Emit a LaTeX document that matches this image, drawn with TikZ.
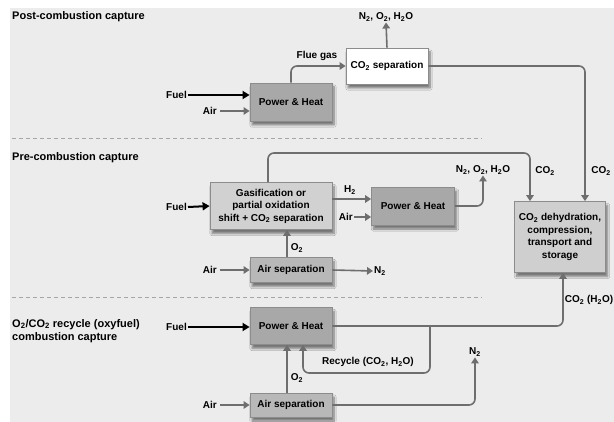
\documentclass[tikz,border=0pt]{standalone}
\usepackage{fontspec}
\setmainfont{Liberation Sans}
\usetikzlibrary{arrows.meta,shadows.blur}

\begin{document}
\begin{tikzpicture}[x=1pt,y=-1pt,
  font=\fontsize{10}{12.5}\selectfont\bfseries,
  box/.style={draw=cbd,line width=0.8pt,minimum width=82pt,align=center,inner sep=2pt,
    blur shadow={shadow xshift=2pt,shadow yshift=-4pt,shadow blur steps=8,shadow opacity=50}},
  flow/.style={draw=cln,line width=1.6pt,rounded corners=6pt},
  arr/.style={flow,-{Triangle[width=7.5pt,length=6pt]}},
  fuel/.style={draw=black,line width=2pt,-{Triangle[width=8pt,length=7pt]}},
  lbl/.style={inner sep=1pt},
  title/.style={lbl,anchor=west,align=left,font=\fontsize{11}{13}\selectfont\bfseries}]
%
\useasboundingbox (0,0) rectangle (614,422);
%
\definecolor{cbg}{rgb}{0.925,0.925,0.925}
\definecolor{cbd}{rgb}{0.55,0.55,0.55}
\definecolor{cln}{rgb}{0.43,0.43,0.43}
\definecolor{cdash}{rgb}{0.65,0.65,0.65}
\definecolor{cph}{rgb}{0.66,0.66,0.66}
\definecolor{cas}{rgb}{0.72,0.72,0.72}
\definecolor{cgas}{rgb}{0.82,0.82,0.82}
\definecolor{cccs}{rgb}{0.81,0.81,0.81}
%
\fill[cbg] (10,8) rectangle (614,422);
\draw[cdash,line width=0.8pt,dash pattern=on 4pt off 3pt] (12,138) -- (482,138);
\draw[cdash,line width=0.8pt,dash pattern=on 4pt off 3pt] (12,297) -- (482,297);
%
\node[title] (t1) at (11,17) {Post-combustion capture};
\node[title] (t2) at (11,158) {Pre-combustion capture};
\node[title] (t3) at (11,331) {O\textsubscript{2}/CO\textsubscript{2} recycle (oxyfuel)\\combustion capture};
%
% boxes
\node[box,fill=cph,minimum height=38pt] (ph1) at (291,102) {Power \& Heat};
\node[box,fill=white,minimum height=36pt] (sep1) at (387,66) {CO\textsubscript{2} separation};
\node[box,fill=cgas,minimum width=122pt,minimum height=47pt] (gas) at (271,206) {Gasification or\\partial oxidation\\shift + CO\textsubscript{2} separation};
\node[box,fill=cph,minimum width=83pt,minimum height=38pt] (ph2) at (413,206) {Power \& Heat};
\node[box,fill=cas,minimum height=25pt] (as1) at (291,270) {Air separation};
\node[box,fill=cccs,minimum width=91pt,minimum height=71pt] (ccs) at (560,237) {CO\textsubscript{2} dehydration,\\compression,\\transport and\\storage};
\node[box,fill=cph,minimum height=37pt] (ph3) at (291,326) {Power \& Heat};
\node[box,fill=cas,minimum height=24pt] (as2) at (291,405) {Air separation};
%
% post-combustion
\node[lbl,anchor=east] (fuel1) at (188,95) {Fuel};
\node[lbl,anchor=east] (air1) at (218,111) {Air};
\draw[fuel] (fuel1.east) -- (fuel1.east -| ph1.west);
\draw[arr] ([xshift=2pt]air1.east) -- (air1.east -| ph1.west);
\draw[arr] (ph1.north) |- (sep1.west);
\node[lbl] (flue) at (317,56) {Flue gas};
\node[lbl] (ex1) at (386,17) {N\textsubscript{2}, O\textsubscript{2}, H\textsubscript{2}O};
\draw[arr] (sep1.north) -- (ex1.south);
\draw[arr] (sep1.east) -| ([xshift=25pt]ccs.north);
\node[lbl] (co2a) at (601,171) {CO\textsubscript{2}};
%
% pre-combustion
\node[lbl,anchor=east] (fuel2) at (188,207) {Fuel};
\draw[fuel] (fuel2.east) -- (gas.west);
\coordinate (c2) at (530,153);
\draw[arr] ([xshift=-3pt]gas.north) |- (c2) -- (c2 |- ccs.north);
\node[lbl] (co2b) at (545,171) {CO\textsubscript{2}};
\draw[arr] ([yshift=7pt]gas.east) -- ([yshift=7pt]gas.east -| ph2.west);
\node[lbl] (h2) at (350,190) {H\textsubscript{2}};
\node[lbl,anchor=east] (air2) at (354,217) {Air};
\draw[arr] (air2.east) -- (air2.east -| ph2.west);
\node[lbl] (ex2) at (483,170) {N\textsubscript{2}, O\textsubscript{2}, H\textsubscript{2}O};
\draw[arr] (ph2.east) -| (ex2.south);
\draw[arr] ([xshift=-4pt]as1.north) -- ([xshift=-4pt]as1.north |- gas.south);
\node[lbl] (o2a) at (297,248) {O\textsubscript{2}};
\node[lbl,anchor=east] (air3) at (218,270) {Air};
\draw[arr] ([xshift=2pt]air3.east) -- (as1.west);
\node[lbl,anchor=west] (n2a) at (373,271) {N\textsubscript{2}};
\draw[arr] (as1.east) -- (n2a.west);
%
% oxyfuel
\node[lbl,anchor=east] (fuel3) at (188,327) {Fuel};
\draw[fuel] (fuel3.east) -- (fuel3.east -| ph3.west);
\draw[arr] (ph3.east) -| ([xshift=3pt]ccs.south);
\node[lbl] (co2c) at (589,300) {CO\textsubscript{2} (H\textsubscript{2}O)};
\coordinate (rc) at (430,326);
\coordinate (rb) at (303,373);
\draw[arr] (rc) |- (rb) -- (rb |- ph3.south);
\node[lbl] (rec) at (368,362) {Recycle (CO\textsubscript{2}, H\textsubscript{2}O)};
\draw[arr] ([xshift=-4pt]as2.north) -- ([xshift=-4pt]as2.north |- ph3.south);
\node[lbl] (o2b) at (297,378) {O\textsubscript{2}};
\node[lbl,anchor=east] (air4) at (218,405) {Air};
\draw[arr] ([xshift=2pt]air4.east) -- (as2.west);
\node[lbl] (n2b) at (475,352) {N\textsubscript{2}};
\draw[arr] (as2.east) -| (n2b.south);
%
\end{tikzpicture}
\end{document}
